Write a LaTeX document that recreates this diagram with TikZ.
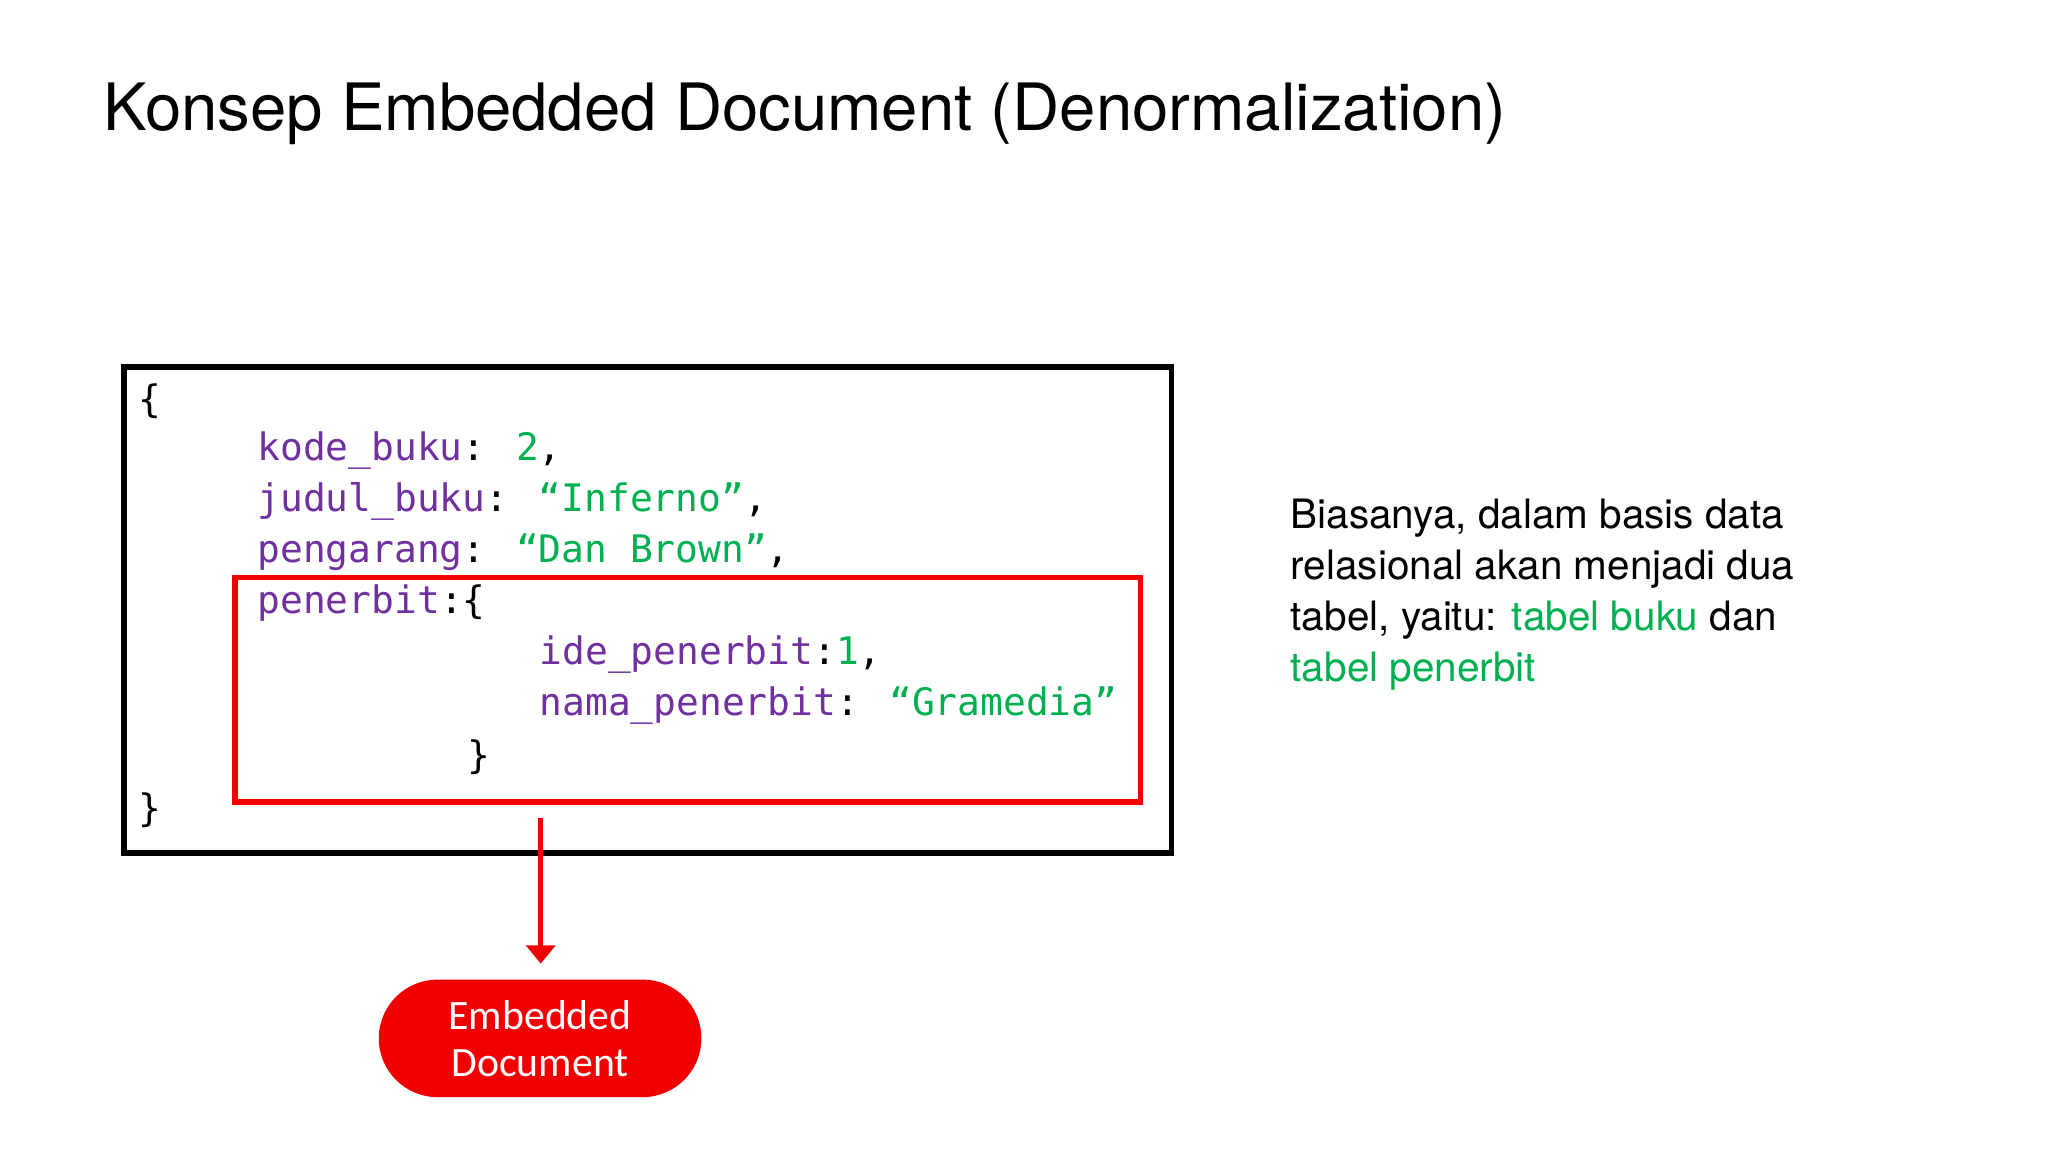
\documentclass[tikz,border=0pt]{standalone}
\usepackage{fontspec}
\setmainfont{Liberation Sans}
\newfontfamily\codefont{DejaVu Sans Mono}
\newfontfamily\bodyfont{TeX Gyre Heros}
\newfontfamily\calfont{Carlito}
\usetikzlibrary{arrows.meta}
\definecolor{kpurple}{RGB}{112,48,160}
\definecolor{kgreen}{RGB}{0,176,80}
\definecolor{kred}{RGB}{240,0,0}
\begin{document}
\begin{tikzpicture}[x=1pt,y=-1pt,
  code/.style={anchor=west,inner sep=0pt,font=\codefont\fontsize{29}{34}\selectfont},
  body/.style={anchor=west,inner sep=0pt,font=\bodyfont\fontsize{31}{36}\selectfont}]
\useasboundingbox (0,0) rectangle (1568,882);
\fill[white] (0,0) rectangle (1568,882);
\node[anchor=west,inner sep=0pt,font=\bodyfont\fontsize{50}{60}\selectfont] (title) at (79,87) {Konsep Embedded Document (Denormalization)};
\node[draw=black,line width=4pt,minimum width=802pt,minimum height=372pt,inner sep=0pt] (outer) at (496,467) {};
\node[draw=kred,line width=4pt,minimum width=693pt,minimum height=172pt,inner sep=0pt] (inner) at (526.5,528) {};
\node[code] (l0) at (106,307) {\{};
\node[code] (l1) at (197,345) {\textcolor{kpurple}{kode\_buku}: \textcolor{kgreen}{2},};
\node[code] (l2) at (197,384) {\textcolor{kpurple}{judul\_buku}: \textcolor{kgreen}{“Inferno”},};
\node[code] (l3) at (197,423) {\textcolor{kpurple}{pengarang}: \textcolor{kgreen}{“Dan Brown”},};
\node[code] (l4) at (197,462) {\textcolor{kpurple}{penerbit}:\{};
\node[code] (l5) at (413,501) {\textcolor{kpurple}{ide\_penerbit}:\textcolor{kgreen}{1},};
\node[code] (l6) at (413,540) {\textcolor{kpurple}{nama\_penerbit}: \textcolor{kgreen}{“Gramedia”}};
\node[code] (l7) at (358,580) {\}};
\node[code] (l8) at (106,620) {\}};
\node[fill=kred,rounded corners=45pt,minimum width=247pt,minimum height=90pt,inner sep=0pt,align=center,text=white,font=\calfont\fontsize{32}{36}\selectfont] (doc) at (413.5,795) {Embedded\\Document};
\coordinate (s) at (414,626);
\draw[kred,line width=4pt,-{Triangle[length=14pt,width=22pt]}] (s) -- ([yshift=12pt]s |- doc.north);
\node[body] (t1) at (988,397) {Biasanya, dalam basis data};
\node[body] (t2) at (988,436) {relasional akan menjadi dua};
\node[body] (t3) at (988,475) {tabel, yaitu: \textcolor{kgreen}{tabel buku} dan};
\node[body] (t4) at (988,514) {\textcolor{kgreen}{tabel penerbit}};
\end{tikzpicture}
\end{document}
